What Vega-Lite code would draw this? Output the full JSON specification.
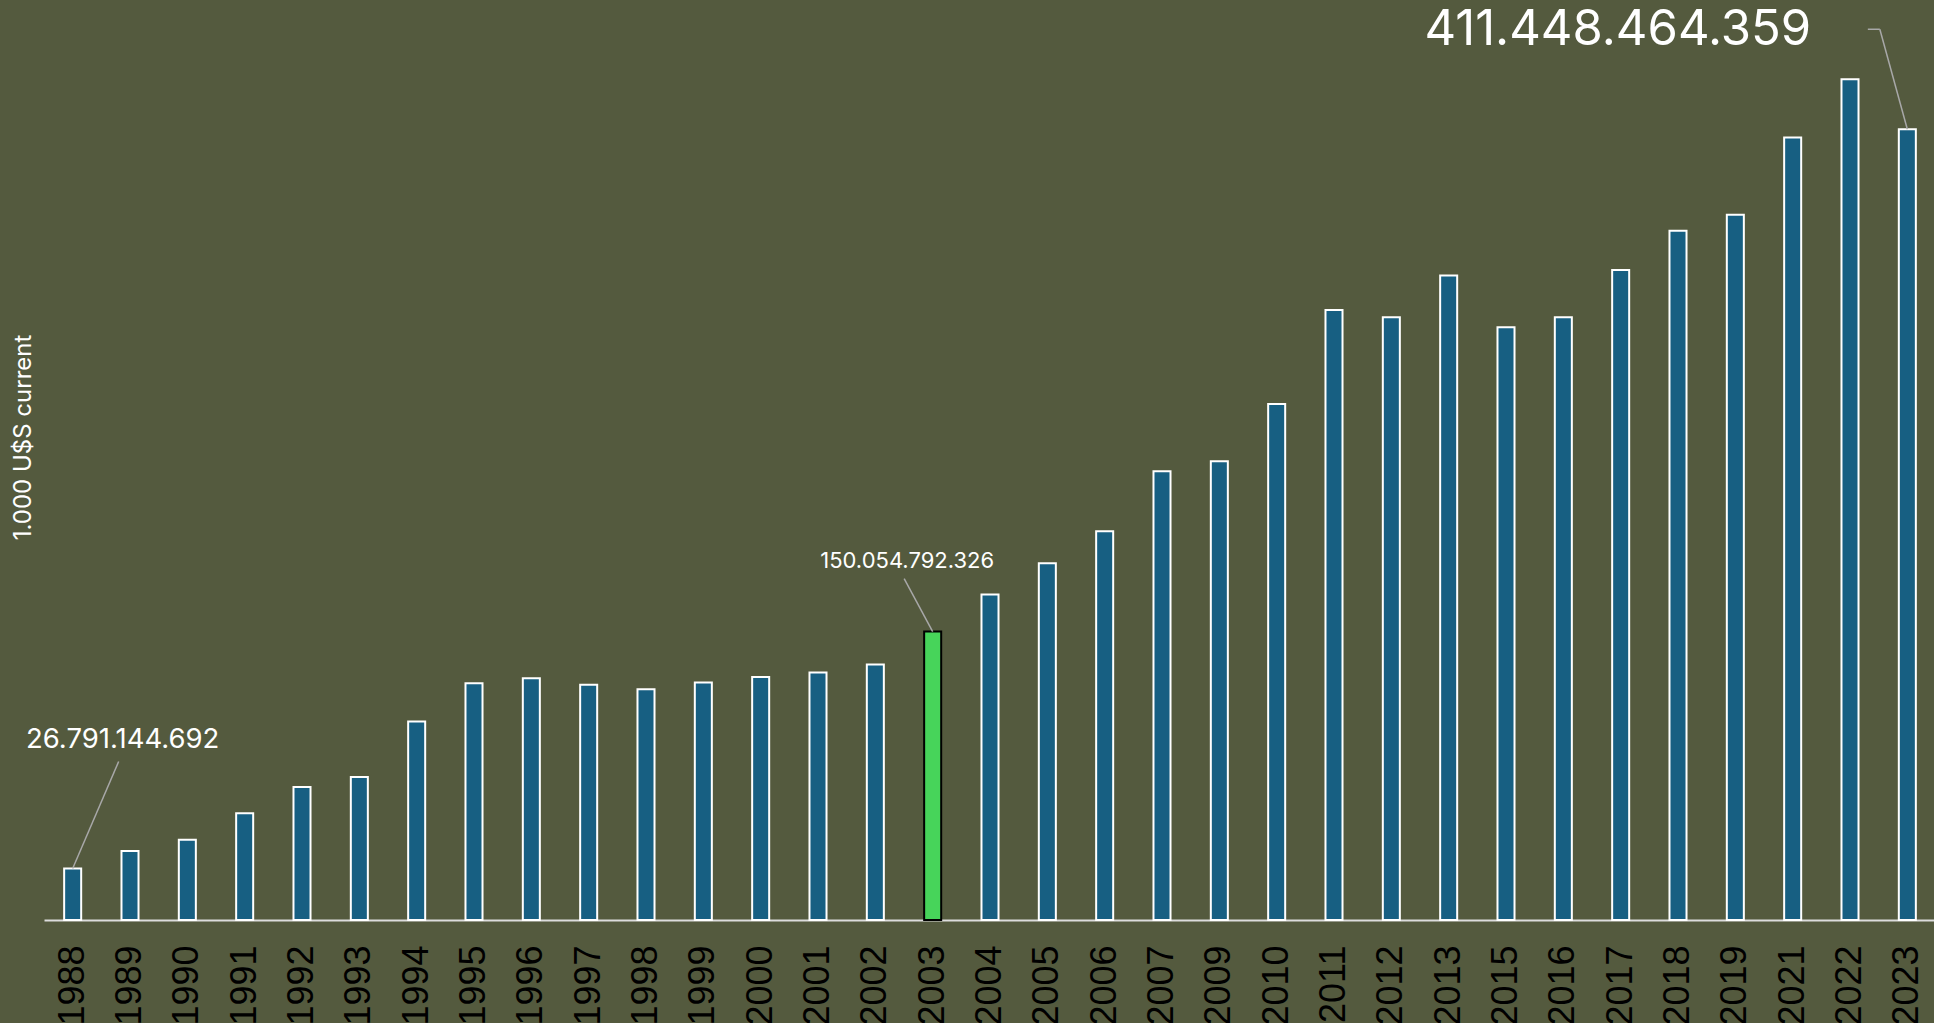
{
  "$schema": "https://vega.github.io/schema/vega-lite/v6.json",
  "width": 1892,
  "height": 880,
  "autosize": {"type": "none"},
  "padding": {"left": 44, "top": 40, "right": 0, "bottom": 103},
  "background": "#545a3e",
  "config": {
    "view": {"stroke": null},
    "locale": {"number": {"decimal": ",", "thousands": ".", "grouping": [3], "currency": ["", ""]}}
  },
  "data": {
    "values": [
      {"year": "1988", "value": 26791144692},
      {"year": "1989", "value": 35900000000},
      {"year": "1990", "value": 41800000000},
      {"year": "1991", "value": 55500000000},
      {"year": "1992", "value": 69200000000},
      {"year": "1993", "value": 74400000000},
      {"year": "1994", "value": 103300000000},
      {"year": "1995", "value": 123200000000},
      {"year": "1996", "value": 125800000000},
      {"year": "1997", "value": 122400000000},
      {"year": "1998", "value": 120100000000},
      {"year": "1999", "value": 123600000000},
      {"year": "2000", "value": 126500000000},
      {"year": "2001", "value": 128800000000},
      {"year": "2002", "value": 133000000000},
      {"year": "2003", "value": 150054792326},
      {"year": "2004", "value": 169400000000},
      {"year": "2005", "value": 185600000000},
      {"year": "2006", "value": 202300000000},
      {"year": "2007", "value": 233500000000},
      {"year": "2009", "value": 238700000000},
      {"year": "2010", "value": 268500000000},
      {"year": "2011", "value": 317400000000},
      {"year": "2012", "value": 313600000000},
      {"year": "2013", "value": 335400000000},
      {"year": "2015", "value": 308400000000},
      {"year": "2016", "value": 313600000000},
      {"year": "2017", "value": 338200000000},
      {"year": "2018", "value": 358600000000},
      {"year": "2019", "value": 367000000000},
      {"year": "2021", "value": 407200000000},
      {"year": "2022", "value": 437500000000},
      {"year": "2023", "value": 411448464359}
    ]
  },
  "encoding": {
    "x": {
      "field": "year",
      "type": "ordinal",
      "sort": null,
      "scale": {"paddingInner": 0.703, "paddingOuter": 0.3515},
      "axis": {
        "title": null,
        "labelAngle": -90,
        "labelAlign": "right",
        "labelBaseline": "middle",
        "labelColor": "#000000",
        "labelFont": "Liberation Sans",
        "labelFontSize": 36,
        "ticks": false,
        "tickSize": 0,
        "labelPadding": 25,
        "domainColor": "#dcdcdc",
        "domainWidth": 2,
        "grid": false
      }
    },
    "y": {
      "field": "value",
      "type": "quantitative",
      "scale": {"domain": [0, 457900000000], "nice": false},
      "axis": {
        "title": "1.000 U$S current",
        "labels": false,
        "ticks": false,
        "domain": false,
        "grid": false,
        "titleColor": "#ffffff",
        "titleFont": "Inter",
        "titleFontSize": 24,
        "titleFontWeight": "normal",
        "titleAngle": -90,
        "titleAlign": "center",
        "titleBaseline": "middle",
        "titleX": -20.5,
        "titleY": 397
      }
    }
  },
  "layer": [
    {
      "mark": {"type": "bar", "strokeWidth": 2},
      "encoding": {
        "color": {"condition": {"test": "datum.year === '2003'", "value": "#47d45a"}, "value": "#175f82"},
        "stroke": {"condition": {"test": "datum.year === '2003'", "value": "#000000"}, "value": "#ffffff"}
      }
    },
    {
      "transform": [{"filter": "datum.year === '1988'"}],
      "mark": {"type": "rule", "color": "#a8a8a8", "strokeWidth": 1.5, "x2Offset": 46, "y2Offset": -107},
      "encoding": {"x2": {"field": "year"}, "y2": {"field": "value"}}
    },
    {
      "transform": [{"filter": "datum.year === '2003'"}],
      "mark": {"type": "rule", "color": "#a8a8a8", "strokeWidth": 1.5, "x2Offset": -28.5, "y2Offset": -53},
      "encoding": {"x2": {"field": "year"}, "y2": {"field": "value"}}
    },
    {
      "transform": [{"filter": "datum.year === '2023'"}],
      "mark": {"type": "rule", "color": "#a8a8a8", "strokeWidth": 1.5, "x2Offset": -27.5, "y2Offset": -100},
      "encoding": {"x2": {"field": "year"}, "y2": {"field": "value"}}
    },
    {
      "transform": [{"filter": "datum.year === '2023'"}],
      "mark": {"type": "rule", "color": "#a8a8a8", "strokeWidth": 1.5, "xOffset": -27.5, "yOffset": -100, "x2Offset": -39.5, "y2Offset": -100},
      "encoding": {"x2": {"field": "year"}, "y2": {"field": "value"}}
    },
    {
      "transform": [{"filter": "datum.year === '1988'"}],
      "mark": {"type": "text", "font": "Inter", "fontSize": 27.5, "color": "#ffffff", "align": "center", "baseline": "middle", "dx": 50, "dy": -129},
      "encoding": {"text": {"field": "value", "type": "quantitative", "format": ",.0f"}}
    },
    {
      "transform": [{"filter": "datum.year === '2003'"}],
      "mark": {"type": "text", "font": "Inter", "fontSize": 22, "color": "#ffffff", "align": "center", "baseline": "middle", "dx": -25.5, "dy": -71},
      "encoding": {"text": {"field": "value", "type": "quantitative", "format": ",.0f"}}
    },
    {
      "transform": [{"filter": "datum.year === '2023'"}],
      "mark": {"type": "text", "font": "Inter", "fontSize": 49, "color": "#ffffff", "align": "center", "baseline": "middle", "dx": -289.5, "dy": -99},
      "encoding": {"text": {"field": "value", "type": "quantitative", "format": ",.0f"}}
    }
  ]
}
